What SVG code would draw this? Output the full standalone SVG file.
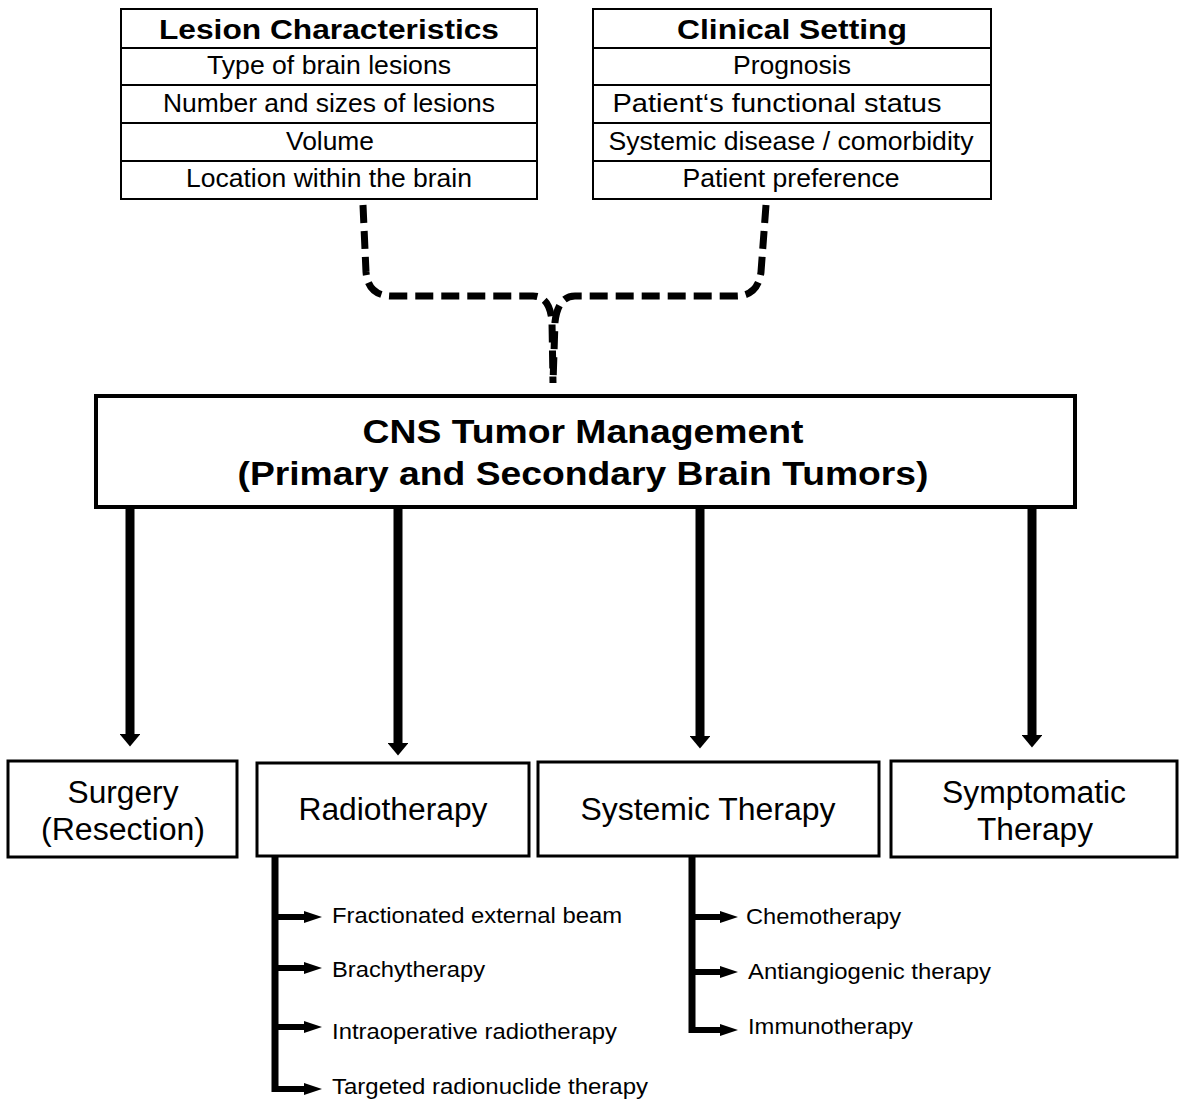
<svg xmlns="http://www.w3.org/2000/svg" width="1181" height="1102" viewBox="0 0 1181 1102">
<style>
text{font-family:"Liberation Sans",Arial,sans-serif;fill:#000;text-anchor:middle}
.hd{font-weight:bold;font-size:28px}
.rw{font-size:25px}
.mn{font-weight:bold;font-size:33px}
.bx{font-size:31px}
.sb{font-size:22px;text-anchor:start}
.tb{fill:#fff;stroke:#000;stroke-width:2}
.ln{stroke:#000;stroke-width:2}
.bb{fill:#fff;stroke:#000;stroke-width:3}
.dash{fill:none;stroke:#000;stroke-width:7;stroke-dasharray:18 8}
.ar{stroke:#000;stroke-width:9;fill:none}
.br{stroke:#000;stroke-width:7;fill:none}
.sa{stroke:#000;stroke-width:6;fill:none}
</style>
<defs>
<marker id="ah" viewBox="0 0 10 10" refX="0" refY="5" markerWidth="1.4" markerHeight="2.3" markerUnits="strokeWidth" orient="auto" preserveAspectRatio="none">
<path d="M0,0 L10,5 L0,10 Z" fill="#000"/>
</marker>
<marker id="sh" viewBox="0 0 10 10" refX="0" refY="5" markerWidth="3" markerHeight="2" markerUnits="strokeWidth" orient="auto" preserveAspectRatio="none">
<path d="M0,0 L10,5 L0,10 Z" fill="#000"/>
</marker>
</defs>

<g id="connectors">
<path class="dash" d="M363 205 L366 272 Q368 296 392 296 L533 296 Q550 296 552 322 L553 383"/>
<path class="dash" d="M766 205 L761 272 Q758 296 736 296 L575 296 Q558 296 555 322 L553 383"/>
<line class="ar" x1="130" y1="508" x2="130" y2="734" marker-end="url(#ah)"/>
<line class="ar" x1="398" y1="508" x2="398" y2="743" marker-end="url(#ah)"/>
<line class="ar" x1="700" y1="508" x2="700" y2="736" marker-end="url(#ah)"/>
<line class="ar" x1="1032" y1="508" x2="1032" y2="735" marker-end="url(#ah)"/>
<path class="br" d="M275 856 L275 1092"/>
<line class="sa" x1="272" y1="917" x2="304" y2="917" marker-end="url(#sh)"/>
<line class="sa" x1="272" y1="968" x2="304" y2="968" marker-end="url(#sh)"/>
<line class="sa" x1="272" y1="1027" x2="304" y2="1027" marker-end="url(#sh)"/>
<line class="sa" x1="272" y1="1089" x2="304" y2="1089" marker-end="url(#sh)"/>
<path class="br" d="M692 856 L692 1033"/>
<line class="sa" x1="689" y1="917" x2="720" y2="917" marker-end="url(#sh)"/>
<line class="sa" x1="689" y1="972" x2="720" y2="972" marker-end="url(#sh)"/>
<line class="sa" x1="689" y1="1030" x2="720" y2="1030" marker-end="url(#sh)"/>
</g>

<g id="lesion">
<rect class="tb" x="121" y="9" width="416" height="190"/>
<line class="ln" x1="121" y1="48" x2="537" y2="48"/>
<line class="ln" x1="121" y1="85" x2="537" y2="85"/>
<line class="ln" x1="121" y1="123" x2="537" y2="123"/>
<line class="ln" x1="121" y1="161" x2="537" y2="161"/>
<text class="hd" x="329" y="39" textLength="340" lengthAdjust="spacingAndGlyphs">Lesion Characteristics</text>
<text class="rw" x="329" y="74" textLength="244" lengthAdjust="spacingAndGlyphs">Type of brain lesions</text>
<text class="rw" x="329" y="112" textLength="332" lengthAdjust="spacingAndGlyphs">Number and sizes of lesions</text>
<text class="rw" x="330" y="150" textLength="88" lengthAdjust="spacingAndGlyphs">Volume</text>
<text class="rw" x="329" y="187" textLength="286" lengthAdjust="spacingAndGlyphs">Location within the brain</text>
</g>

<g id="clinical">
<rect class="tb" x="593" y="9" width="398" height="190"/>
<line class="ln" x1="593" y1="48" x2="991" y2="48"/>
<line class="ln" x1="593" y1="85" x2="991" y2="85"/>
<line class="ln" x1="593" y1="123" x2="991" y2="123"/>
<line class="ln" x1="593" y1="161" x2="991" y2="161"/>
<text class="hd" x="792" y="39" textLength="230" lengthAdjust="spacingAndGlyphs">Clinical Setting</text>
<text class="rw" x="792" y="74" textLength="118" lengthAdjust="spacingAndGlyphs">Prognosis</text>
<text class="rw" x="777" y="112" textLength="329" lengthAdjust="spacingAndGlyphs">Patient‘s functional status</text>
<text class="rw" x="791" y="150" textLength="365" lengthAdjust="spacingAndGlyphs">Systemic disease / comorbidity</text>
<text class="rw" x="791" y="187" textLength="217" lengthAdjust="spacingAndGlyphs">Patient preference</text>
</g>

<g id="main">
<rect x="96" y="396" width="979" height="111" fill="#fff" stroke="#000" stroke-width="4"/>
<text class="mn" x="583" y="443" textLength="441" lengthAdjust="spacingAndGlyphs">CNS Tumor Management</text>
<text class="mn" x="583" y="485" textLength="691" lengthAdjust="spacingAndGlyphs">(Primary and Secondary Brain Tumors)</text>
</g>

<g id="surgery">
<rect class="bb" x="8" y="761" width="229" height="96"/>
<text class="bx" x="123" y="803" textLength="111" lengthAdjust="spacingAndGlyphs">Surgery</text>
<text class="bx" x="123" y="840" textLength="164" lengthAdjust="spacingAndGlyphs">(Resection)</text>
</g>

<g id="radiotherapy">
<rect class="bb" x="257" y="763" width="272" height="93"/>
<text class="bx" x="393" y="820" textLength="189" lengthAdjust="spacingAndGlyphs">Radiotherapy</text>
</g>

<g id="systemic">
<rect class="bb" x="538" y="762" width="341" height="94"/>
<text class="bx" x="708" y="820" textLength="255" lengthAdjust="spacingAndGlyphs">Systemic Therapy</text>
</g>

<g id="symptomatic">
<rect class="bb" x="891" y="761" width="286" height="96"/>
<text class="bx" x="1034" y="803" textLength="184" lengthAdjust="spacingAndGlyphs">Symptomatic</text>
<text class="bx" x="1035" y="840" textLength="116" lengthAdjust="spacingAndGlyphs">Therapy</text>
</g>

<g id="radio-items">
<text class="sb" x="332" y="923" textLength="290" lengthAdjust="spacingAndGlyphs">Fractionated external beam</text>
<text class="sb" x="332" y="977" textLength="153" lengthAdjust="spacingAndGlyphs">Brachytherapy</text>
<text class="sb" x="332" y="1039" textLength="285" lengthAdjust="spacingAndGlyphs">Intraoperative radiotherapy</text>
<text class="sb" x="332" y="1094" textLength="316" lengthAdjust="spacingAndGlyphs">Targeted radionuclide therapy</text>
</g>

<g id="systemic-items">
<text class="sb" x="746" y="924" textLength="155" lengthAdjust="spacingAndGlyphs">Chemotherapy</text>
<text class="sb" x="748" y="979" textLength="243" lengthAdjust="spacingAndGlyphs">Antiangiogenic therapy</text>
<text class="sb" x="748" y="1034" textLength="165" lengthAdjust="spacingAndGlyphs">Immunotherapy</text>
</g>
</svg>
